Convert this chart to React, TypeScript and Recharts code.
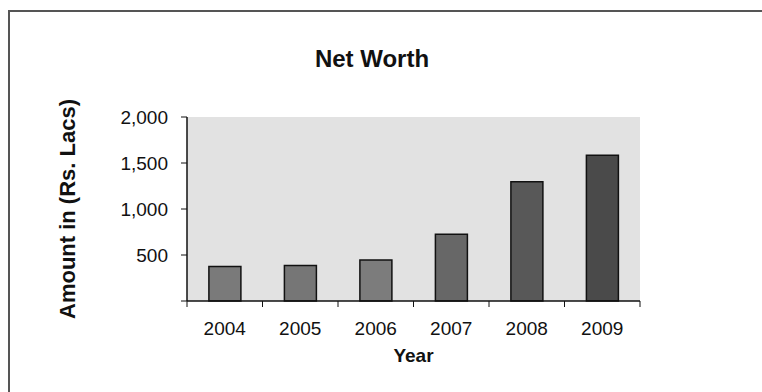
import React from 'react';
import {
  BarChart,
  Bar,
  XAxis,
  YAxis,
  CartesianGrid,
  Cell,
  Label,
} from 'recharts';

// values
const years = ['2004', '2005', '2006', '2007', '2008', '2009'];
const netWorth = [375, 385, 445, 725, 1295, 1585];
const yTicks = [0, 500, 1000, 1500, 2000];

const barColors = ['#7a7a7a', '#767676', '#7c7c7c', '#676767', '#585858', '#4a4a4a'];

const data = years.map((year, i) => ({ year, value: netWorth[i] }));

const FONT = "Arial, 'Liberation Sans', sans-serif";
const INK = '#111';
const TICK_SIZE = 6;
const X_TICK_MARGIN = 15;

// Excel-style ticks: marks sit on the category boundaries, label in the middle
function YearTick(props: any) {
  const { x, y, payload, index, visibleTicksCount, width } = props;
  const half =
    payload && typeof payload.offset === 'number' && payload.offset > 0
      ? payload.offset
      : width / visibleTicksCount / 2;
  const axisY = y - TICK_SIZE - X_TICK_MARGIN;
  return (
    <g>
      <line x1={x - half} y1={axisY} x2={x - half} y2={axisY + TICK_SIZE} stroke={INK} strokeWidth={1} />
      {index === visibleTicksCount - 1 && (
        <line x1={x + half} y1={axisY} x2={x + half} y2={axisY + TICK_SIZE} stroke={INK} strokeWidth={1} />
      )}
      <text x={x} y={y} dy="0.71em" textAnchor="middle" fontSize={19} fontFamily={FONT} fill={INK}>
        {payload.value}
      </text>
    </g>
  );
}

function AmountLabel(props: any) {
  const { viewBox } = props;
  const cx = viewBox.x + 75;
  const cy = viewBox.y + viewBox.height / 2;
  return (
    <text
      x={cx}
      y={cy}
      transform={`rotate(-90, ${cx}, ${cy})`}
      textAnchor="middle"
      fontSize={22}
      fontWeight="bold"
      fontFamily={FONT}
      fill={INK}
    >
      Amount in (Rs. Lacs)
    </text>
  );
}

export default function App() {
  return (
    <div style={{ position: 'absolute', left: 0, top: 0, width: 762, height: 392, background: '#fff', overflow: 'hidden' }}>
      {/* scanned frame, only left and top edges are inside the picture */}
      <div
        style={{
          position: 'absolute',
          left: 8,
          top: 10,
          width: 800,
          height: 420,
          borderLeft: '2px solid #555',
          borderTop: '2px solid #555',
        }}
      />
      <div
        style={{
          position: 'absolute',
          left: 272,
          top: 47,
          width: 200,
          textAlign: 'center',
          fontFamily: FONT,
          fontWeight: 'bold',
          fontSize: 24,
          lineHeight: '24px',
          color: INK,
        }}
      >
        Net Worth
      </div>
      <div style={{ position: 'absolute', left: 0, top: 0 }}>
        <BarChart
          width={762}
          height={392}
          data={data}
          margin={{ top: 117, right: 122, bottom: 61, left: 0 }}
          barCategoryGap="29%"
        >
          <CartesianGrid horizontal={false} vertical={false} fill="#e2e2e2" />
          <XAxis
            dataKey="year"
            height={30}
            tickSize={TICK_SIZE}
            tickMargin={X_TICK_MARGIN}
            tickLine={false}
            axisLine={{ stroke: INK, strokeWidth: 1.5 }}
            tick={<YearTick />}
            interval={0}
          >
            <Label
              value="Year"
              position="bottom"
              offset={18}
              fontSize={19}
              fontWeight="bold"
              fontFamily={FONT}
              fill={INK}
            />
          </XAxis>
          <XAxis
            xAxisId="top"
            dataKey="year"
            orientation="top"
            height={0}
            tick={false}
            tickLine={false}
            axisLine={{ stroke: '#333', strokeWidth: 1.5 }}
          />
          <YAxis
            width={187}
            domain={[0, 2000]}
            ticks={yTicks}
            interval={0}
            tickSize={TICK_SIZE}
            tickMargin={13}
            tickFormatter={(v: number) => (v === 0 ? '' : v.toLocaleString('en-US'))}
            tick={{ fontSize: 19, fontFamily: FONT, fill: INK }}
            tickLine={{ stroke: INK }}
            axisLine={{ stroke: INK, strokeWidth: 1.5 }}
          >
            <Label content={<AmountLabel />} />
          </YAxis>
          <YAxis
            yAxisId="right"
            orientation="right"
            width={0}
            domain={[0, 2000]}
            tick={false}
            tickLine={false}
            axisLine={{ stroke: '#333', strokeWidth: 1.5 }}
          />
          <Bar dataKey="value" stroke="#111" strokeWidth={1.5} isAnimationActive={false}>
            {data.map((d, i) => (
              <Cell key={d.year} fill={barColors[i]} />
            ))}
          </Bar>
        </BarChart>
      </div>
    </div>
  );
}
